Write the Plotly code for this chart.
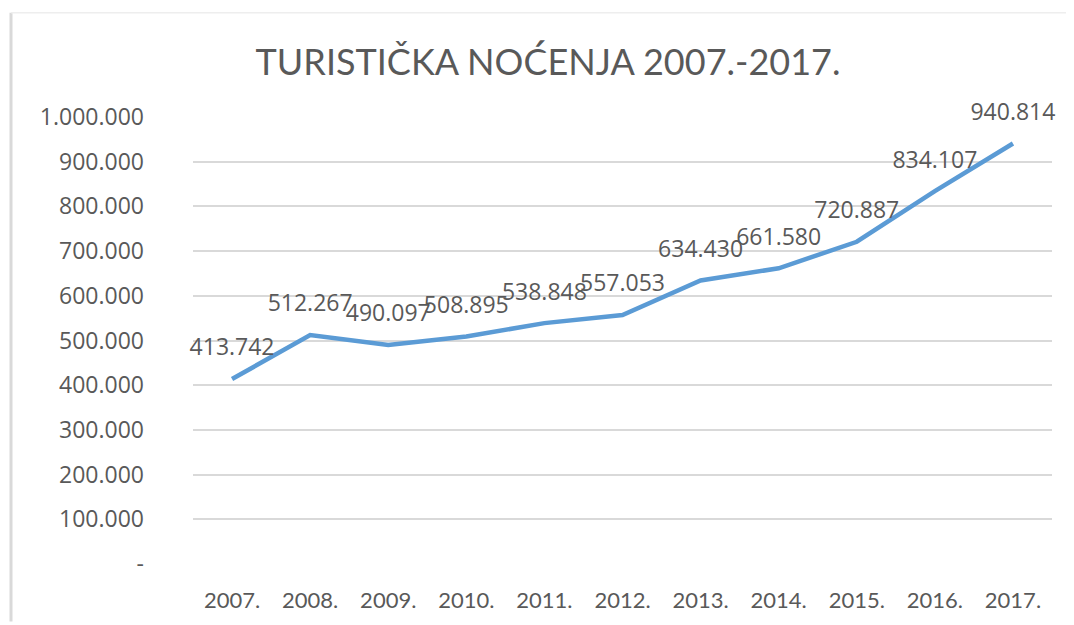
import plotly.graph_objects as go

years = ["2007.", "2008.", "2009.", "2010.", "2011.", "2012.", "2013.", "2014.", "2015.", "2016.", "2017."]
nocenja = [413742, 512267, 490097, 508895, 538848, 557053, 634430, 661580, 720887, 834107, 940814]
y_tickvals = [0, 100000, 200000, 300000, 400000, 500000, 600000, 700000, 800000, 900000, 1000000]
y_ticktext = ["-", "100.000", "200.000", "300.000", "400.000", "500.000", "600.000",
              "700.000", "800.000", "900.000", "1.000.000"]
title_text = "TURISTIČKA NOĆENJA 2007.-2017."


def fmt(v):
    return f"{v:,}".replace(",", ".")


labels = [fmt(v) for v in nocenja]

W, H = 1066, 617
L, R, T, B = 185, 22, 109, 58
pw, ph = W - L - R, H - T - B

fig = go.Figure()
fig.add_trace(go.Scatter(
    x=years, y=nocenja, mode="lines",
    line=dict(color="#5B9BD5", width=4.5),
    hoverinfo="skip", showlegend=False,
))
fig.add_trace(go.Scatter(
    x=years, y=nocenja, mode="markers+text", text=labels, textposition="top center",
    marker=dict(size=27, opacity=0),
    textfont=dict(family="Open Sans", size=23, color="#595959"),
    hoverinfo="skip", showlegend=False, cliponaxis=False,
))

fig.update_layout(
    width=W, height=H,
    paper_bgcolor="white", plot_bgcolor="white",
    margin=dict(l=L, r=R, t=T, b=B),
    title=dict(text=title_text, x=540 / W, xanchor="center", xref="container",
               y=1 - 54 / H, yanchor="middle", yref="container",
               font=dict(family="Lato", size=36, color="#595959")),
    xaxis=dict(type="category", range=[-0.5, 10.5], showgrid=False, showline=False,
               ticks="", tickfont=dict(family="Lato", size=22, color="#595959"),
               ticklabelstandoff=21),
    yaxis=dict(range=[0, 1000000], tickvals=y_tickvals, ticktext=y_ticktext,
               showgrid=True, gridcolor="#D9D9D9", gridwidth=1.5, zeroline=False,
               ticks="", ticklabelstandoff=48,
               tickfont=dict(family="Open Sans", size=23, color="#595959")),
    shapes=[
        dict(type="line", xref="paper", yref="paper", x0=(3 - L) / pw, x1=(3 - L) / pw,
             y0=-B / ph, y1=(T - 4) / ph + 1,
             line=dict(color="#D9D9D9", width=3)),
        dict(type="line", xref="paper", yref="paper", x0=(3 - L) / pw, x1=(W - L) / pw,
             y0=(T - 4) / ph + 1, y1=(T - 4) / ph + 1,
             line=dict(color="#EEEEEE", width=1.5)),
    ],
)

fig.write_html("out.html")
